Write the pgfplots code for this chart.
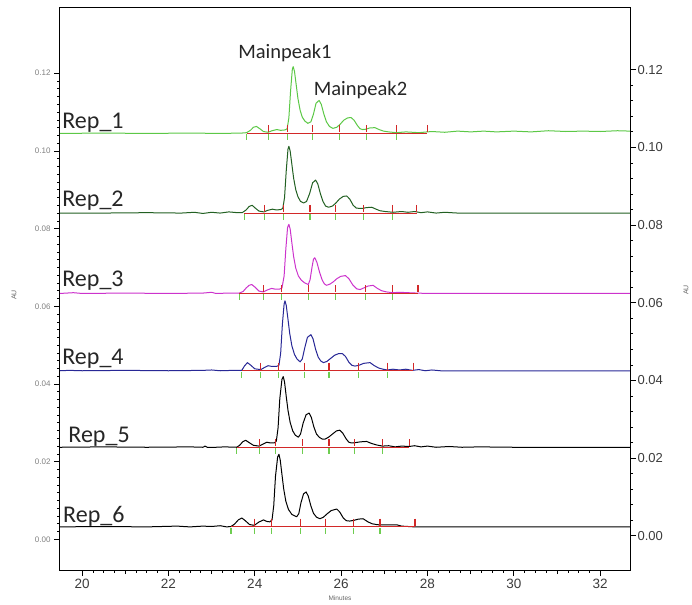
\documentclass[border=0pt]{standalone}
\usepackage{fontspec}
\setmainfont{Liberation Sans}
\newfontfamily\carlito{Carlito}
\usepackage{pgfplots}
\usepackage{pgfplotstable}
\pgfplotsset{compat=1.18}

\definecolor{RepA}{RGB}{92,200,70}
\definecolor{RepB}{RGB}{34,96,34}
\definecolor{RepC}{RGB}{204,51,204}
\definecolor{RepD}{RGB}{40,40,150}
\definecolor{IntRed}{RGB}{210,40,40}
\definecolor{IntGreen}{RGB}{110,205,80}
\definecolor{LabGray}{RGB}{60,60,60}

% signal above each trace's own baseline (AU), time in minutes
\pgfplotstableread{
t h
19.49 0
20.50 0.0001
21.50 0
22.50 0.0001
23.20 0
23.70 0.0001
23.81 0.0002
23.90 0.0008
23.97 0.0016
24.04 0.0018
24.12 0.0012
24.20 0.0005
24.31 0.0003
24.40 0.0007
24.51 0.0010
24.60 0.0008
24.70 0.0009
24.75 0.0012
24.79 0.0040
24.83 0.0110
24.87 0.0165
24.89 0.0172
24.92 0.0160
24.96 0.0125
25.00 0.0090
25.05 0.0060
25.10 0.0042
25.16 0.0032
25.23 0.0026
25.30 0.0030
25.36 0.0050
25.42 0.0078
25.49 0.0085
25.54 0.0075
25.60 0.0050
25.66 0.0030
25.73 0.0018
25.81 0.0013
25.90 0.0016
25.98 0.0024
26.06 0.0034
26.15 0.0040
26.23 0.0041
26.30 0.0034
26.38 0.0020
26.44 0.0012
26.50 0.0010
26.58 0.0011
26.66 0.0014
26.78 0.0015
26.88 0.0010
26.98 0.0006
27.10 0.0004
27.28 0.0002
27.50 0.0004
27.80 0.0002
28.10 0.0005
28.40 0.0003
28.70 0.0006
29.00 0.0004
29.30 0.0006
29.60 0.0004
30.00 0.0006
30.40 0.0004
30.80 0.0007
31.20 0.0005
31.60 0.0006
32.00 0.0005
32.40 0.0007
32.69 0.0006
}\repA

\pgfplotstableread{
t h
19.49 0
20.50 0
21.50 0.0001
22.30 0
22.60 0.0002
22.80 -0.0001
23.00 0.0002
23.20 0
23.40 0.0003
23.60 0.0001
23.71 0.0001
23.80 0.0008
23.87 0.0017
23.94 0.0020
24.02 0.0012
24.10 0.0005
24.21 0.0003
24.30 0.0007
24.41 0.0010
24.50 0.0008
24.60 0.0009
24.65 0.0012
24.69 0.0040
24.73 0.0110
24.77 0.0165
24.79 0.0172
24.82 0.0160
24.86 0.0125
24.90 0.0090
24.95 0.0060
25.00 0.0042
25.06 0.0030
25.13 0.0026
25.20 0.0030
25.27 0.0050
25.34 0.0078
25.41 0.0085
25.46 0.0075
25.52 0.0050
25.58 0.0030
25.64 0.0018
25.71 0.0015
25.80 0.0018
25.88 0.0026
25.96 0.0036
26.05 0.0043
26.13 0.0044
26.20 0.0036
26.28 0.0020
26.35 0.0013
26.42 0.0012
26.50 0.0012
26.58 0.0014
26.71 0.0015
26.81 0.0010
26.90 0.0006
27.02 0.0004
27.20 0.0002
27.40 0.0004
27.55 0.0002
27.70 0.0004
27.85 0.0001
28.00 0.0003
28.20 0
28.40 0.0002
28.70 0
29.50 0
30.50 0
31.50 0
32.69 0
}\repB

\pgfplotstableread{
t h
19.49 0
19.80 0.0002
20.00 0
21.00 0.0001
22.00 0
22.80 0.0001
23.00 0.0003
23.10 0
23.40 0.0001
23.64 0.0001
23.73 0.0005
23.80 0.0014
23.87 0.0021
23.93 0.0023
24.01 0.0016
24.10 0.0006
24.20 0.0004
24.29 0.0009
24.39 0.0013
24.48 0.0011
24.57 0.0011
24.63 0.0014
24.68 0.0045
24.72 0.0115
24.76 0.0170
24.79 0.0178
24.82 0.0166
24.86 0.0130
24.90 0.0095
24.95 0.0065
25.01 0.0045
25.08 0.0034
25.16 0.0027
25.24 0.0023
25.28 0.0035
25.33 0.0070
25.36 0.0088
25.39 0.0092
25.44 0.0080
25.50 0.0055
25.56 0.0035
25.61 0.0025
25.66 0.0021
25.74 0.0024
25.82 0.0030
25.90 0.0038
25.99 0.0044
26.10 0.0046
26.18 0.0038
26.27 0.0022
26.36 0.0012
26.44 0.0010
26.52 0.0014
26.62 0.0019
26.74 0.0021
26.84 0.0013
26.94 0.0007
27.05 0.0004
27.19 0.0002
27.35 0.0003
27.55 0.0002
27.75 0.0001
28.00 0
29.00 0
30.00 0
31.00 0
32.69 0
}\repC

\pgfplotstableread{
t h
19.49 0
19.70 0.0001
20.00 0
21.00 0.0001
22.00 0
22.80 0.0001
23.00 0.0002
23.20 0
23.50 0.0001
23.70 0.0001
23.76 0.0012
23.83 0.0021
23.91 0.0014
24.00 0.0005
24.14 0.0003
24.22 0.0008
24.31 0.0013
24.40 0.0011
24.50 0.0011
24.56 0.0014
24.60 0.0045
24.64 0.0120
24.68 0.0172
24.70 0.0180
24.73 0.0168
24.77 0.0132
24.81 0.0096
24.86 0.0064
24.92 0.0042
24.98 0.0030
25.05 0.0023
25.10 0.0030
25.16 0.0060
25.22 0.0086
25.30 0.0093
25.35 0.0082
25.41 0.0055
25.47 0.0035
25.53 0.0025
25.59 0.0021
25.67 0.0024
25.76 0.0032
25.85 0.0040
25.94 0.0044
26.03 0.0044
26.10 0.0037
26.18 0.0022
26.25 0.0014
26.32 0.0012
26.41 0.0014
26.52 0.0019
26.67 0.0021
26.77 0.0013
26.87 0.0007
26.97 0.0004
27.07 0.0002
27.20 0.0004
27.35 0.0002
27.50 0.0004
27.65 0.0001
27.80 0.0003
27.95 0
28.10 0.0002
28.30 0
29.00 0
30.00 0
31.00 0
32.69 0
}\repD

\pgfplotstableread{
t h
19.49 0
20.50 0.0001
21.50 0
22.50 0.0001
22.80 0
22.85 0.0003
22.90 0
23.10 0
23.30 0.0001
23.58 0
23.65 0.0005
23.72 0.0014
23.79 0.0018
23.87 0.0012
23.97 0.0005
24.10 0.0003
24.19 0.0008
24.28 0.0013
24.37 0.0011
24.45 0.0011
24.50 0.0016
24.54 0.0050
24.58 0.0125
24.63 0.0175
24.66 0.0182
24.69 0.0168
24.73 0.0130
24.77 0.0095
24.82 0.0064
24.88 0.0042
24.94 0.0031
25.01 0.0026
25.06 0.0034
25.12 0.0062
25.19 0.0084
25.26 0.0088
25.31 0.0077
25.37 0.0052
25.43 0.0034
25.50 0.0025
25.57 0.0021
25.63 0.0021
25.71 0.0026
25.80 0.0034
25.89 0.0042
25.97 0.0044
26.04 0.0036
26.12 0.0021
26.18 0.0013
26.24 0.0011
26.33 0.0012
26.45 0.0014
26.59 0.0015
26.70 0.0010
26.82 0.0006
26.96 0.0003
27.10 0.0004
27.25 0.0001
27.40 0.0003
27.58 0.0002
27.70 0.0004
27.85 0.0001
28.00 0.0003
28.20 0
28.50 0.0002
28.80 0
29.20 0.0001
30.00 0
31.00 0
32.69 0
}\repE

\pgfplotstableread{
t h
19.49 0
20.50 0.0001
21.50 0
22.20 0.0002
22.50 0
22.80 0.0002
23.00 0.0001
23.20 0.0003
23.35 0
23.45 0.0001
23.53 0.0007
23.62 0.0018
23.70 0.0023
23.78 0.0016
23.88 0.0006
23.99 0.0004
24.09 0.0012
24.20 0.0018
24.28 0.0014
24.35 0.0013
24.40 0.0018
24.44 0.0055
24.48 0.0130
24.53 0.0180
24.56 0.0187
24.59 0.0172
24.63 0.0135
24.67 0.0098
24.72 0.0066
24.78 0.0045
24.86 0.0032
24.97 0.0026
25.02 0.0034
25.07 0.0062
25.13 0.0085
25.19 0.0090
25.24 0.0079
25.30 0.0054
25.36 0.0035
25.43 0.0025
25.51 0.0021
25.59 0.0025
25.68 0.0034
25.77 0.0042
25.90 0.0046
25.97 0.0038
26.05 0.0023
26.12 0.0016
26.20 0.0015
26.30 0.0017
26.40 0.0020
26.51 0.0021
26.62 0.0013
26.72 0.0008
26.82 0.0006
26.90 0.0005
27.10 0.0005
27.30 0.0005
27.40 0.0002
27.55 0.0001
27.71 0
28.00 0
29.00 0
30.00 0
31.00 0
32.69 0
}\repF

\pgfplotsset{
  trace/.style={line width=1pt, line join=round},
  intbase/.style={IntRed, line width=0.9pt},
  intred/.style={only marks, mark=|, mark size=3.5pt, IntRed, mark options={line width=1.1pt}},
  intgreen/.style={only marks, mark=|, mark size=3pt, IntGreen, mark options={line width=1.1pt}},
}
\tikzset{
  replabel/.style={anchor=base west, font=\carlito\fontsize{24}{24}\selectfont, text=black!85, inner sep=0pt},
  peaklabel/.style={anchor=base, font=\carlito\fontsize{20.5}{21}\selectfont, text=black!85, inner sep=0pt},
}

\begin{document}
\begin{tikzpicture}
\useasboundingbox (-60pt,-34pt) rectangle (632pt,570pt);
\begin{axis}[
    scale only axis,
    width=570pt, height=562pt,
    xmin=19.49, xmax=32.69,
    ymin=-0.0079, ymax=0.1368,
    axis line style={black, line width=1pt},
    xtick={20,22,...,32},
    minor x tick num=7,
    extra x ticks={21,23,25,27,29,31},
    extra x tick labels={},
    extra x tick style={major tick length=4pt},
    ytick={0,0.02,...,0.121},
    minor y tick num=9,
    xtick pos=bottom, ytick pos=left,
    tick align=outside,
    major tick length=6pt, minor tick length=2.5pt,
    tick style={black, line width=0.8pt},
    minor tick style={black, line width=0.6pt},
    xticklabel style={font=\fontsize{13.5}{14}\selectfont, text=LabGray},
    yticklabel style={font=\fontsize{8}{9}\selectfont, text=black!50, /pgf/number format/.cd, fixed, fixed zerofill, precision=2},
    /pgf/number format/assume math mode=true,
    scaled y ticks=false,
    clip=false,
]
% Rep_1
\addplot[trace, RepA] table[x=t, y expr=\thisrow{h}+0.1045] {\repA};
\addplot[intbase] coordinates {(23.81,0.1045) (28.00,0.1045)};
\addplot[intred] coordinates {(24.31,0.1057) (24.75,0.1057) (25.33,0.1057) (25.96,0.1057) (26.59,0.1057) (27.28,0.1057) (28.00,0.1057)};
\addplot[intgreen] coordinates {(23.81,0.1035) (24.31,0.1035) (24.75,0.1035) (25.33,0.1035) (25.96,0.1035) (26.59,0.1035) (27.28,0.1035)};
% Rep_2
\addplot[trace, RepB] table[x=t, y expr=\thisrow{h}+0.0840] {\repB};
\addplot[intbase] coordinates {(23.76,0.0840) (27.75,0.0840)};
\addplot[intred] coordinates {(24.22,0.0852) (24.66,0.0852) (25.28,0.0852) (25.86,0.0852) (26.51,0.0852) (27.19,0.0852) (27.75,0.0852)};
\addplot[intgreen] coordinates {(23.76,0.0830) (24.22,0.0830) (24.66,0.0830) (25.28,0.0830) (25.86,0.0830) (26.51,0.0830) (27.19,0.0830)};
% Rep_3
\addplot[trace, RepC] table[x=t, y expr=\thisrow{h}+0.0633] {\repC};
\addplot[intbase] coordinates {(23.64,0.0633) (27.78,0.0633)};
\addplot[intred] coordinates {(24.20,0.0645) (24.61,0.0645) (25.25,0.0645) (25.86,0.0645) (26.57,0.0645) (27.19,0.0645) (27.78,0.0645)};
\addplot[intgreen] coordinates {(23.64,0.0623) (24.20,0.0623) (24.61,0.0623) (25.25,0.0623) (25.86,0.0623) (26.57,0.0623) (27.19,0.0623)};
% Rep_4
\addplot[trace, RepD] table[x=t, y expr=\thisrow{h}+0.0434] {\repD};
\addplot[intbase] coordinates {(23.70,0.0434) (27.67,0.0434)};
\addplot[intred] coordinates {(24.14,0.0446) (24.56,0.0446) (25.15,0.0446) (25.72,0.0446) (26.41,0.0446) (27.07,0.0446) (27.67,0.0446)};
\addplot[intgreen] coordinates {(23.70,0.0424) (24.14,0.0424) (24.56,0.0424) (25.15,0.0424) (25.72,0.0424) (26.41,0.0424) (27.07,0.0424)};
% Rep_5
\addplot[trace, black] table[x=t, y expr=\thisrow{h}+0.0237] {\repE};
\addplot[intbase] coordinates {(23.58,0.0237) (27.58,0.0237)};
\addplot[intred] coordinates {(24.10,0.0249) (24.48,0.0249) (25.11,0.0249) (25.72,0.0249) (26.30,0.0249) (26.96,0.0249) (27.58,0.0249)};
\addplot[intgreen] coordinates {(23.58,0.0227) (24.10,0.0227) (24.48,0.0227) (25.11,0.0227) (25.72,0.0227) (26.30,0.0227) (26.96,0.0227)};
% Rep_6
\addplot[trace, black] table[x=t, y expr=\thisrow{h}+0.0032] {\repF};
\addplot[intbase] coordinates {(23.45,0.0032) (27.71,0.0032)};
\addplot[intred] coordinates {(23.99,0.0044) (24.39,0.0044) (25.05,0.0044) (25.63,0.0044) (26.28,0.0044) (26.90,0.0044) (27.71,0.0044)};
\addplot[intgreen] coordinates {(23.45,0.0022) (23.99,0.0022) (24.39,0.0022) (25.05,0.0022) (25.63,0.0022) (26.28,0.0022) (26.90,0.0022)};

\node[replabel] at (axis cs:19.54,0.1058) {Rep\_1};
\node[replabel] at (axis cs:19.54,0.0856) {Rep\_2};
\node[replabel] at (axis cs:19.54,0.0650) {Rep\_3};
\node[replabel] at (axis cs:19.54,0.0449) {Rep\_4};
\node[replabel] at (axis cs:19.68,0.0248) {Rep\_5};
\node[replabel] at (axis cs:19.56,0.0043) {Rep\_6};
\node[peaklabel] at (axis cs:24.70,0.1239) {Mainpeak1};
\node[peaklabel] at (axis cs:26.45,0.1142) {Mainpeak2};
\end{axis}
\begin{axis}[
    scale only axis,
    width=570pt, height=562pt,
    xmin=19.49, xmax=32.69,
    ymin=-0.0088, ymax=0.1359,
    axis x line=none,
    axis y line*=right,
    axis line style={black, line width=1pt},
    ytick={0,0.02,...,0.121},
    minor y tick num=4,
    tick align=outside,
    major tick length=6pt, minor tick length=3pt,
    tick style={black, line width=0.8pt},
    yticklabel style={font=\fontsize{13}{14}\selectfont, text=LabGray, xshift=-2pt, /pgf/number format/.cd, fixed, fixed zerofill, precision=2},
    /pgf/number format/assume math mode=true,
    scaled y ticks=false,
]
\addplot[draw=none] coordinates {(20,0)};
\end{axis}
\node[rotate=90, font=\fontsize{7}{8}\selectfont, text=black!60] at (-46pt,275pt) {AU};
\node[rotate=90, font=\fontsize{7}{8}\selectfont, text=black!60] at (626pt,280pt) {AU};
\node[font=\fontsize{6.5}{7}\selectfont, text=black!60] at (280pt,-28pt) {Minutes};
\end{tikzpicture}
\end{document}
